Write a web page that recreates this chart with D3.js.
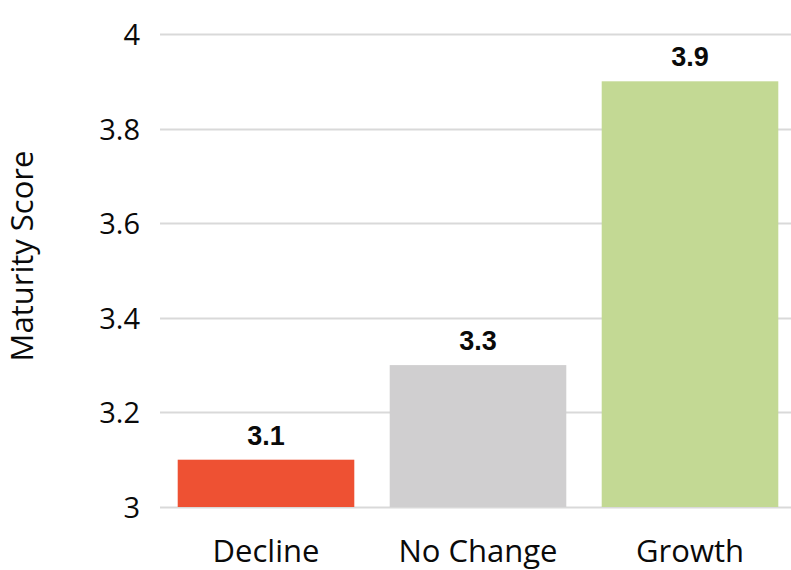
<!DOCTYPE html>
<html>
<head>
<meta charset="utf-8">
<script src="https://cdn.jsdelivr.net/npm/d3@7"></script>
<style>
  html, body { margin: 0; padding: 0; background: #fff; }
  svg { display: block; }
</style>
</head>
<body>
<svg id="chart" width="791" height="570"></svg>
<script>
// Maturity score by business trajectory
const categories = ["Decline", "No Change", "Growth"];
const scores = [3.1, 3.3, 3.9];
const barColors = ["#ee5133", "#d0cfd0", "#c3d994"];
const yTicks = [3, 3.2, 3.4, 3.6, 3.8, 4];
const yTitle = "Maturity Score";

const svg = d3.select("#chart");
const W = 791, H = 570;
const plotLeft = 160, plotRight = 796, plotTop = 34, plotBottom = 507;

const x = d3.scaleBand()
  .domain(categories)
  .range([plotLeft, plotRight])
  .paddingInner(0.167)
  .paddingOuter(0.0835);

const y = d3.scaleLinear()
  .domain([3, 4])
  .range([plotBottom, plotTop]);

// Horizontal gridlines
svg.append("g")
  .selectAll("line")
  .data(yTicks)
  .join("line")
  .attr("x1", plotLeft)
  .attr("x2", W)
  .attr("y1", d => Math.round(y(d)) + 0.5)
  .attr("y2", d => Math.round(y(d)) + 0.5)
  .attr("stroke", "#d9d9d9")
  .attr("stroke-width", 2);

// Y axis tick labels
const yAxis = d3.axisLeft(y)
  .tickValues(yTicks)
  .tickFormat(d3.format("~g"))
  .tickSize(0)
  .tickPadding(0);

const yg = svg.append("g")
  .attr("transform", `translate(140,0)`)
  .call(yAxis);
yg.select(".domain").remove();
yg.selectAll("text")
  .attr("font-family", "'Open Sans', sans-serif")
  .attr("font-size", 29)
  .attr("fill", "#0a0a0a")
  .attr("dy", "0.36em");

// Bars
svg.append("g")
  .selectAll("rect")
  .data(categories)
  .join("rect")
  .attr("x", d => x(d))
  .attr("width", x.bandwidth())
  .attr("y", (d, i) => y(scores[i]))
  .attr("height", (d, i) => y(3) - y(scores[i]))
  .attr("fill", (d, i) => barColors[i]);

// Value labels
svg.append("g")
  .selectAll("text")
  .data(categories)
  .join("text")
  .attr("x", d => x(d) + x.bandwidth() / 2)
  .attr("y", (d, i) => y(scores[i]) - 15)
  .attr("text-anchor", "middle")
  .attr("font-family", "'Liberation Sans', Arial, sans-serif")
  .attr("font-weight", "bold")
  .attr("font-size", 27)
  .attr("fill", "#0a0a0a")
  .text((d, i) => scores[i].toFixed(1));

// X axis category labels
const xAxis = d3.axisBottom(x).tickSize(0).tickPadding(0);
const xg = svg.append("g")
  .attr("transform", `translate(0,${plotBottom})`)
  .call(xAxis);
xg.select(".domain").remove();
xg.selectAll("text")
  .attr("font-family", "'Open Sans', sans-serif")
  .attr("font-size", 31)
  .attr("fill", "#0a0a0a")
  .attr("dy", null)
  .attr("y", 55);

// Y axis title
svg.append("text")
  .attr("transform", "translate(33,256) rotate(-90)")
  .attr("text-anchor", "middle")
  .attr("font-family", "'Open Sans', sans-serif")
  .attr("font-size", 31)
  .attr("fill", "#0a0a0a")
  .text(yTitle);
</script>
</body>
</html>
